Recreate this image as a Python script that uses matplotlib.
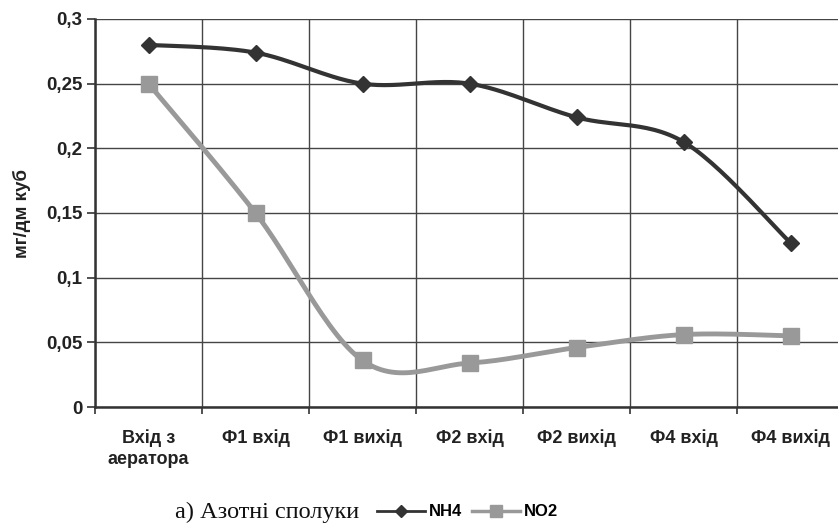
import numpy as np
import matplotlib
matplotlib.use("Agg")
import matplotlib.pyplot as plt
from matplotlib.lines import Line2D

categories = ["Вхід з\nаератора", "Ф1 вхід", "Ф1 вихід", "Ф2 вхід", "Ф2 вихід", "Ф4 вхід", "Ф4 вихід"]
nh4 = [0.280, 0.274, 0.250, 0.250, 0.224, 0.205, 0.127]
no2 = [0.250, 0.150, 0.036, 0.034, 0.046, 0.056, 0.055]
y_ticks = [0, 0.05, 0.1, 0.15, 0.2, 0.25, 0.3]
y_labels = ["0", "0,05", "0,1", "0,15", "0,2", "0,25", "0,3"]


def smooth(xs, ys, n=30):
    # Excel-style smoothed line: cubic bezier, control points from neighbours
    p = np.column_stack([xs, ys]).astype(float)
    ext = np.vstack([p[0], p, p[-1]])
    out = []
    t = np.linspace(0, 1, n)[:, None]
    for i in range(len(p) - 1):
        p0, p1, p2, p3 = ext[i], ext[i + 1], ext[i + 2], ext[i + 3]
        c1 = p1 + (p2 - p0) / 6
        c2 = p2 - (p3 - p1) / 6
        seg = (1 - t) ** 3 * p1 + 3 * (1 - t) ** 2 * t * c1 + 3 * (1 - t) * t ** 2 * c2 + t ** 3 * p2
        out.append(seg)
    out = np.vstack(out)
    return out[:, 0], out[:, 1]


plt.rcParams['font.family'] = ['Liberation Sans', 'DejaVu Sans']

fig = plt.figure(figsize=(8.38, 5.24), dpi=100)
ax = fig.add_axes([95 / 838, 1 - 407 / 524, (844 - 95) / 838, (407 - 19) / 524])

x = np.arange(1, len(categories) + 1)
dark = "#333333"
grey = "#999999"

sx, sy = smooth(x, no2)
ax.plot(sx, sy, color=grey, lw=3.5, zorder=3)
ax.plot(x, no2, ls="none", marker="s", ms=11.5, color=grey, zorder=4)

sx, sy = smooth(x, nh4)
ax.plot(sx, sy, color=dark, lw=3, zorder=5)
ax.plot(x, nh4, ls="none", marker="D", ms=8, color=dark, zorder=6)

ax.set_xlim(0.5, 7.5)
ax.set_ylim(0, 0.3)
ax.set_yticks(y_ticks)
ax.set_yticklabels(y_labels, fontsize=13.5, fontweight="bold", color="#222222")
ax.set_xticks(np.arange(0.5, 8, 1))
ax.set_xticklabels([])
ax.set_xticks(x, minor=True)
ax.set_xticklabels(categories, minor=True, fontsize=13, fontweight="bold", color="#222222",
                   linespacing=1.3)
ax.tick_params(axis="x", which="minor", length=0, pad=16)
ax.tick_params(axis="x", which="major", length=5, width=1.2, color=dark)
ax.tick_params(axis="y", length=6, width=1.2, color=dark, pad=3)

ax.grid(True, which="major", color="#444444", lw=1)
ax.set_axisbelow(True)
for s in ["top", "right"]:
    ax.spines[s].set_visible(False)
for s in ["left", "bottom"]:
    ax.spines[s].set_color(dark)
    ax.spines[s].set_linewidth(1.8)

fig.text(22 / 838, 1 - 213 / 524, "мг/дм куб", rotation=90, ha="center", va="center",
         fontsize=13.5, fontweight="bold", color="#222222")

fig.text(175 / 838, 1 - 512 / 524, "а) Азотні сполуки", fontsize=17.5,
         family=["Liberation Serif", "DejaVu Serif"], va="center", ha="left", color="#111111")

handles = [
    Line2D([], [], color=dark, lw=2, marker="D", ms=6),
    Line2D([], [], color=grey, lw=2.5, marker="s", ms=9),
]
fig.legend(handles, ["NH4", "NO2"], loc="center left", bbox_to_anchor=(377 / 838, 1 - 512 / 524),
           ncol=2, frameon=False, borderpad=0, borderaxespad=0,
           handlelength=2.9, handletextpad=0.2, columnspacing=0.6,
           prop={"weight": "bold", "size": 12})

fig.savefig("out.png", dpi=100)
